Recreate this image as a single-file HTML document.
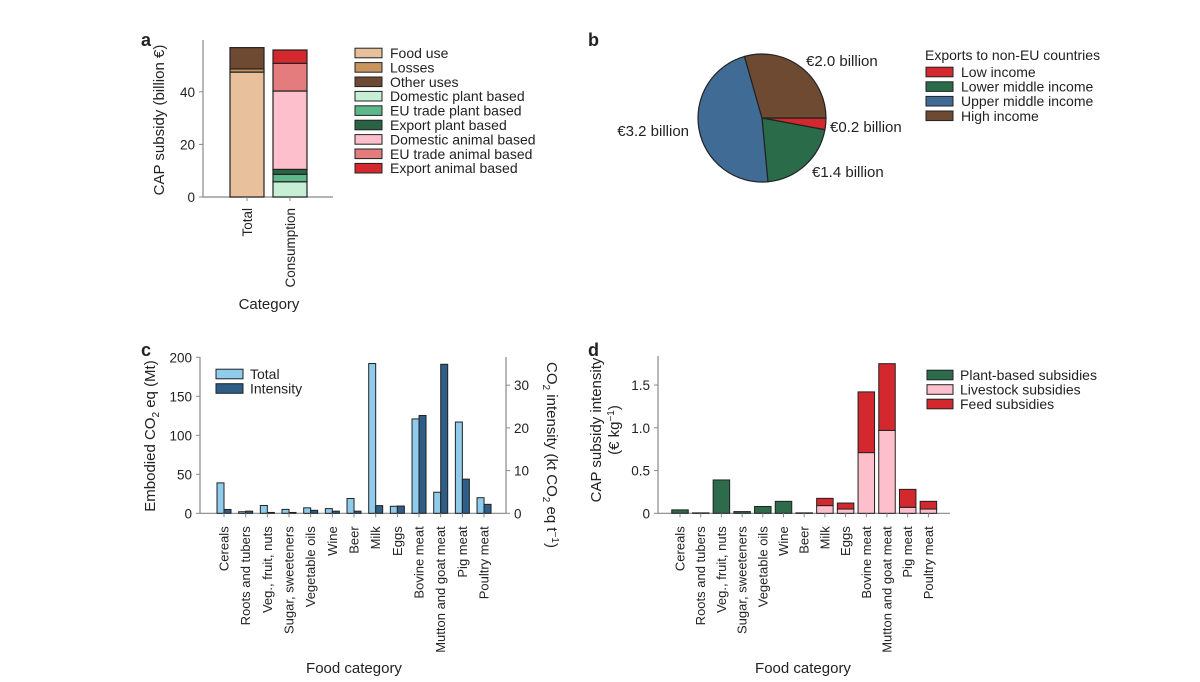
<!DOCTYPE html>
<html><head><meta charset="utf-8">
<style>
html,body{margin:0;padding:0;background:#fff;}
svg{display:block;font-family:"Liberation Sans",sans-serif;}
text{fill:#222;}
</style></head>
<body>
<svg id="fig" width="1200" height="682" viewBox="0 0 1200 682">
<g id="pa"></g>
<g id="pb"></g>
<g id="pc"></g>
<g id="pd"></g>
</svg>
<script>
// ---------- Panel a data ----------
const aCategories = ["Total", "Consumption"];
const aSeriesNames = ["Food use","Losses","Other uses","Domestic plant based","EU trade plant based","Export plant based","Domestic animal based","EU trade animal based","Export animal based"];
const aColors = ["#e8c19c","#c8955f","#6e4a33","#c6efd5","#5cb88a","#2a6244","#fdbfcb","#e47c7e","#d2282e"];
const aTotalValues = [47.5, 1.2, 8.1, 0, 0, 0, 0, 0, 0];
const aConsumptionValues = [0, 0, 0, 5.8, 2.8, 1.9, 29.8, 10.5, 5.1];
const aTicks = [0, 20, 40];
// ---------- Panel b data ----------
const bLabels = ["Low income","Lower middle income","Upper middle income","High income"];
const bValues = [0.2, 1.4, 3.2, 2.0];
const bValueLabels = ["€0.2 billion","€1.4 billion","€3.2 billion","€2.0 billion"];
const bColors = ["#d2282e","#2a6b49","#3f6b94","#6e4a33"];
// ---------- Panel c data ----------
const foodCategories = ["Cereals","Roots and tubers","Veg., fruit, nuts","Sugar, sweeteners","Vegetable oils","Wine","Beer","Milk","Eggs","Bovine meat","Mutton and goat meat","Pig meat","Poultry meat"];
const cTotal = [39, 2, 10, 5, 7, 6, 19, 192, 9, 121, 27, 117, 20];
const cIntensity = [0.9, 0.5, 0.2, 0.2, 0.7, 0.5, 0.5, 1.8, 1.7, 22.9, 34.9, 8.0, 2.1];
const cLeftTicks = [0, 50, 100, 150, 200];
const cRightTicks = [0, 10, 20, 30];
// ---------- Panel d data ----------
const dPlant = [0.04, 0.005, 0.39, 0.02, 0.08, 0.14, 0.005, 0, 0, 0, 0, 0, 0];
const dLivestock = [0, 0, 0, 0, 0, 0, 0, 0.09, 0.05, 0.71, 0.97, 0.07, 0.05];
const dFeed = [0, 0, 0, 0, 0, 0, 0, 0.085, 0.07, 0.71, 0.78, 0.21, 0.09];
const dTicks = [0, 0.5, 1.0, 1.5];
const dTickLabels = ["0","0.5","1.0","1.5"];

const NS = "http://www.w3.org/2000/svg";
function mk(parent, tag, attrs, txt){
  const e = document.createElementNS(NS, tag);
  for (const k in attrs) e.setAttribute(k, attrs[k]);
  if (txt !== undefined) e.textContent = txt;
  parent.appendChild(e);
  return e;
}
const STROKE = "#222";
const TF = 13.5, LF = 14, XF = 13;

// ================= PANEL A =================
(function(){
  const g = document.getElementById("pa");
  const x0 = 203, y0 = 197, pxPer = 2.63;
  const y = v => y0 - v * pxPer;
  let t = mk(g,"text",{x:141,y:46,"font-size":18,"font-weight":"bold"},"a");
  
  
  let l = mk(g,"line",{x1:x0,y1:40,x2:x0,y2:y0,stroke:"#888","stroke-width":1.2});
  
  
  l = mk(g,"line",{x1:x0,y1:y0,x2:333,y2:y0,stroke:"#888","stroke-width":1.2});
  
  
  aTicks.forEach(v=>{
    let tk = mk(g,"line",{x1:x0-4,y1:y(v),x2:x0,y2:y(v),stroke:"#888"});
    
    
    let tl = mk(g,"text",{x:x0-8,y:y(v)+5,"font-size":TF,"text-anchor":"end"},String(v));
    
    
  });
  const series = [aTotalValues, aConsumptionValues];
  const barX = [230, 273], bw = 34;
  aCategories.forEach((c,ci)=>{
    let cum = 0;
    series[ci].forEach((v,si)=>{
      if (v<=0) return;
      const r = mk(g,"rect",{x:barX[ci],y:y(cum+v),width:bw,height:v*pxPer,fill:aColors[si],stroke:STROKE,"stroke-width":1.2});
      
      
      cum += v;
    });
    const cx = barX[ci]+bw/2;
    let tk = mk(g,"line",{x1:cx,y1:y0,x2:cx,y2:y0+4,stroke:"#888"});
    
    
    let tl = mk(g,"text",{x:0,y:0,"font-size":TF,"text-anchor":"end",transform:`translate(${cx+5},${y0+11}) rotate(-90)`},c);
    
    
  });
  t = mk(g,"text",{x:0,y:0,"font-size":15,"text-anchor":"middle",transform:"translate(164,120) rotate(-90)"},"CAP subsidy (billion €)");
  
  
  t = mk(g,"text",{x:269,y:309,"font-size":15,"text-anchor":"middle"},"Category");
  
  
  aSeriesNames.forEach((n,i)=>{
    const yy = 53 + i*14.4;
    const r = mk(g,"rect",{x:355,y:yy-4.8,width:27,height:9.6,fill:aColors[i],stroke:STROKE,"stroke-width":1});
    
    
    const tx = mk(g,"text",{x:390,y:yy+5,"font-size":LF},n);
    
    
  });
})();

// ================= PANEL B =================
(function(){
  const g = document.getElementById("pb");
  const cx = 762, cy = 118, r = 64;
  let t = mk(g,"text",{x:588,y:46,"font-size":18,"font-weight":"bold"},"b");
  
  
  const total = bValues.reduce((a,b)=>a+b,0);
  let ang = 0;
  const pt = a => [cx + r*Math.cos(a*Math.PI/180), cy + r*Math.sin(a*Math.PI/180)];
  const labelPos = [[830,132,"start"],[812,177,"start"],[689,136,"end"],[806,66,"start"]];
  bValues.forEach((v,i)=>{
    const sweep = v/total*360;
    const [x1,y1] = pt(ang), [x2,y2] = pt(ang+sweep);
    const large = sweep>180?1:0;
    const p = mk(g,"path",{d:`M${cx},${cy} L${x1},${y1} A${r},${r} 0 ${large} 1 ${x2},${y2} Z`,fill:bColors[i],stroke:STROKE,"stroke-width":1.2});
    
    
    const lp = labelPos[i];
    const tx = mk(g,"text",{x:lp[0],y:lp[1],"font-size":15,"text-anchor":lp[2]},bValueLabels[i]);
    
    
    ang += sweep;
  });
  t = mk(g,"text",{x:925,y:60,"font-size":LF},"Exports to non-EU countries");
  
  
  bLabels.forEach((n,i)=>{
    const yy = 72 + i*14.6;
    const rr = mk(g,"rect",{x:926,y:yy-4.8,width:27,height:9.6,fill:bColors[i],stroke:STROKE,"stroke-width":1});
    
    
    const tx = mk(g,"text",{x:961,y:yy+5,"font-size":LF},n);
    
    
  });
})();

// ================= PANEL C =================
(function(){
  const g = document.getElementById("pc");
  const xL = 200, xR = 506, y0 = 513.3;
  const yL = v => y0 - v*0.78;
  const yR = v => y0 - v*4.27;
  const xc = i => 224 + i*21.67;
  let t = mk(g,"text",{x:141,y:356,"font-size":18,"font-weight":"bold"},"c");
  
  
  let l = mk(g,"line",{x1:xL,y1:357,x2:xL,y2:y0,stroke:"#888","stroke-width":1.2});
  
  
  l = mk(g,"line",{x1:xR,y1:357,x2:xR,y2:y0,stroke:"#888","stroke-width":1.2});
  
  
  l = mk(g,"line",{x1:xL,y1:y0,x2:xR,y2:y0,stroke:"#888","stroke-width":1.2});
  
  
  cLeftTicks.forEach(v=>{
    let tk = mk(g,"line",{x1:xL-4,y1:yL(v),x2:xL,y2:yL(v),stroke:"#888"});
    
    
    let tl = mk(g,"text",{x:xL-8,y:yL(v)+5,"font-size":TF,"text-anchor":"end"},String(v));
    
    
  });
  cRightTicks.forEach(v=>{
    let tk = mk(g,"line",{x1:xR,y1:yR(v),x2:xR+4,y2:yR(v),stroke:"#888"});
    
    
    let tl = mk(g,"text",{x:xR+8,y:yR(v)+5,"font-size":TF},String(v));
    
    
  });
  foodCategories.forEach((c,i)=>{
    const x = xc(i);
    const r1 = mk(g,"rect",{x:x-7,y:yL(cTotal[i]),width:7,height:cTotal[i]*0.78,fill:"#8fcbea",stroke:STROKE,"stroke-width":1});
    
    
    const r2 = mk(g,"rect",{x:x,y:yR(cIntensity[i]),width:7,height:cIntensity[i]*4.27,fill:"#2f5d86",stroke:STROKE,"stroke-width":1});
    
    
    let tk = mk(g,"line",{x1:x,y1:y0,x2:x,y2:y0+4,stroke:"#888"});
    
    
    let tl = mk(g,"text",{x:0,y:0,"font-size":XF,"text-anchor":"end",transform:`translate(${x+4.5},${y0+13}) rotate(-90)`},c);
    
    
  });
  t = mk(g,"text",{x:0,y:0,"font-size":15,"text-anchor":"middle",transform:"translate(155,436) rotate(-90)"});
  t.innerHTML = 'Embodied CO<tspan font-size="10" dy="4">2</tspan><tspan dy="-4"> eq (Mt)</tspan>';
  
  
  t = mk(g,"text",{x:0,y:0,"font-size":15,"text-anchor":"middle",transform:"translate(547,455) rotate(90)"});
  t.innerHTML = 'CO<tspan font-size="10" dy="4">2</tspan><tspan dy="-4"> intensity (kt CO</tspan><tspan font-size="10" dy="4">2</tspan><tspan dy="-4"> eq t</tspan><tspan font-size="10" dy="-5">−1</tspan><tspan dy="5">)</tspan>';
  
  
  t = mk(g,"text",{x:354,y:673,"font-size":15,"text-anchor":"middle"},"Food category");
  
  
  [["Total","#8fcbea"],["Intensity","#2f5d86"]].forEach((e,i)=>{
    const yy = 374 + i*14.5;
    const rr = mk(g,"rect",{x:216,y:yy-4.8,width:27,height:9.6,fill:e[1],stroke:STROKE,"stroke-width":1});
    
    
    const tx = mk(g,"text",{x:250,y:yy+5,"font-size":LF},e[0]);
    
    
  });
})();

// ================= PANEL D =================
(function(){
  const g = document.getElementById("pd");
  const x0 = 658, y0 = 513.3, pxPer = 85.5;
  const y = v => y0 - v*pxPer;
  const xc = i => 680 + i*20.7;
  const bw = 16.5;
  let t = mk(g,"text",{x:588,y:356,"font-size":18,"font-weight":"bold"},"d");
  
  
  let l = mk(g,"line",{x1:x0,y1:356,x2:x0,y2:y0,stroke:"#888","stroke-width":1.2});
  
  
  l = mk(g,"line",{x1:x0,y1:y0,x2:950,y2:y0,stroke:"#888","stroke-width":1.2});
  
  
  dTicks.forEach((v,i)=>{
    let tk = mk(g,"line",{x1:x0-4,y1:y(v),x2:x0,y2:y(v),stroke:"#888"});
    
    
    let tl = mk(g,"text",{x:x0-8,y:y(v)+5,"font-size":TF,"text-anchor":"end"},dTickLabels[i]);
    
    
  });
  const stacks = [[dPlant,"#2e6b4a","plant"],[dLivestock,"#fdbfcb","livestock"],[dFeed,"#d2282e","feed"]];
  foodCategories.forEach((c,i)=>{
    const x = xc(i);
    let cum = 0;
    stacks.forEach(s=>{
      const v = s[0][i];
      if (v<=0) return;
      const r = mk(g,"rect",{x:x-bw/2,y:y(cum+v),width:bw,height:v*pxPer,fill:s[1],stroke:STROKE,"stroke-width":1});
      
      
      cum += v;
    });
    let tk = mk(g,"line",{x1:x,y1:y0,x2:x,y2:y0+4,stroke:"#888"});
    
    
    let tl = mk(g,"text",{x:0,y:0,"font-size":XF,"text-anchor":"end",transform:`translate(${x+4.5},${y0+13}) rotate(-90)`},c);
    
    
  });
  t = mk(g,"text",{x:0,y:0,"font-size":15,"text-anchor":"middle",transform:"translate(601,430) rotate(-90)"},"CAP subsidy intensity");
  
  
  t = mk(g,"text",{x:0,y:0,"font-size":15,"text-anchor":"middle",transform:"translate(619,430) rotate(-90)"});
  t.innerHTML = '(€ kg<tspan font-size="10" dy="-5">−1</tspan><tspan dy="5">)</tspan>';
  
  
  t = mk(g,"text",{x:803,y:673,"font-size":15,"text-anchor":"middle"},"Food category");
  
  
  [["Plant-based subsidies","#2e6b4a"],["Livestock subsidies","#fdbfcb"],["Feed subsidies","#d2282e"]].forEach((e,i)=>{
    const yy = 375 + i*14.5;
    const rr = mk(g,"rect",{x:927,y:yy-4.8,width:26,height:9.6,fill:e[1],stroke:STROKE,"stroke-width":1});
    
    
    const tx = mk(g,"text",{x:960,y:yy+5,"font-size":LF},e[0]);
    
    
  });
})();
</script>
</body></html>
